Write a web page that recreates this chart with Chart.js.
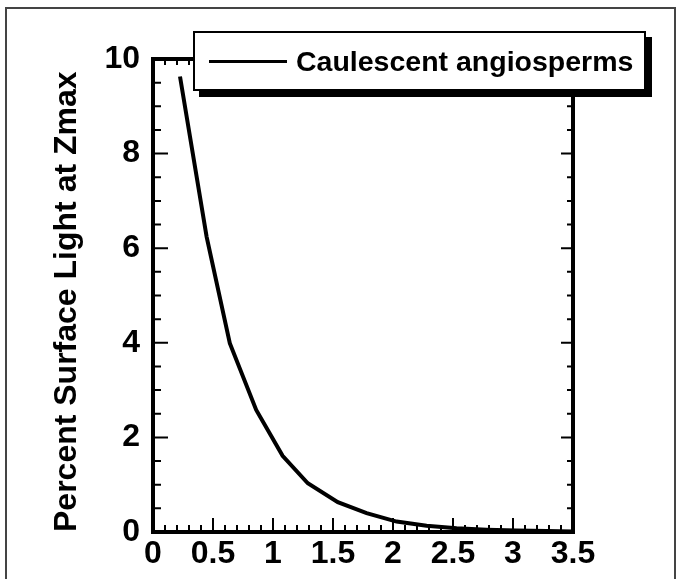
<!DOCTYPE html>
<html>
<head>
<meta charset="utf-8">
<script src="https://cdn.jsdelivr.net/npm/chart.js@4.4.0/dist/chart.umd.min.js"></script>
<style>
html,body{margin:0;padding:0;background:#fff;overflow:hidden}
#wrap{position:relative;width:681px;height:579px;background:#fff}
#c{position:absolute;left:0;top:0}
#frame{position:absolute;left:5px;top:7px;width:671px;height:640px;border:2px solid #444;box-sizing:border-box;pointer-events:none}
#legend{position:absolute;left:193px;top:31px;width:453px;height:60px;box-sizing:border-box;border:2px solid #000;background:#fff;box-shadow:6px 6px 0 0 #000;display:flex;align-items:center;padding-left:14px;font-family:"Liberation Sans",Arial,sans-serif;font-weight:bold;font-size:28.5px;color:#000;white-space:nowrap}
#legend .sample{display:inline-block;width:78px;height:3px;background:#000;margin-right:9px}
</style>
</head>
<body>
<div id="wrap">
  <canvas id="c" width="681" height="579"></canvas>
  <div id="legend"></div>
  <div id="frame"></div>
</div>
<script>
// ---- data ----
const seriesName = 'Caulescent angiosperms';
const yAxisTitle = 'Percent Surface Light at Zmax';
const depthValues = [0.225, 0.447, 0.64, 0.86, 1.08, 1.29, 1.54, 1.78, 2.03, 2.28, 2.53, 2.78, 3.03, 3.28, 3.5];
const lightValues = [9.63, 6.24, 3.99, 2.58, 1.61, 1.03, 0.63, 0.40, 0.22, 0.13, 0.08, 0.05, 0.03, 0.02, 0.012];
const xTickValues = [0, 0.5, 1, 1.5, 2, 2.5, 3, 3.5];
const xTickLabels = ['0', '0.5', '1', '1.5', '2', '2.5', '3', '3.5'];
const yTickValues = [0, 2, 4, 6, 8, 10];
const yTickLabels = ['0', '2', '4', '6', '8', '10'];

Chart.defaults.font.family = '"Liberation Sans", Arial, sans-serif';
Chart.defaults.font.weight = 'bold';
Chart.defaults.color = '#000';
const tickFont = {family: '"Liberation Sans", Arial, sans-serif', size: 32, weight: 'bold'};

const axesFrame = {
  id: 'axesFrame',
  afterDatasetsDraw(chart) {
    const {ctx, chartArea: a, scales: {x, y}} = chart;
    ctx.save();
    ctx.strokeStyle = '#000';
    ctx.lineWidth = 2;
    ctx.beginPath();
    for (let i = 0; i <= 35; i++) {
      const px = x.getPixelForValue(i / 10);
      const major = i % 5 === 0;
      ctx.moveTo(px, a.bottom); ctx.lineTo(px, a.bottom - (major ? 14 : 7));
      ctx.moveTo(px, a.top); ctx.lineTo(px, a.top + (major ? 12 : 6));
    }
    for (let i = 0; i <= 20; i++) {
      const py = y.getPixelForValue(i / 2);
      const major = i % 4 === 0;
      ctx.moveTo(a.left, py); ctx.lineTo(a.left + (major ? 15 : 8), py);
      ctx.moveTo(a.right, py); ctx.lineTo(a.right - (major ? 12 : 6), py);
    }
    ctx.stroke();
    ctx.lineWidth = 4;
    ctx.strokeRect(a.left, a.top, a.right - a.left, a.bottom - a.top);
    ctx.restore();
  }
};

const chart = new Chart(document.getElementById('c'), {
  type: 'line',
  data: {
    datasets: [{
      label: seriesName,
      data: depthValues.map((d, i) => ({x: d, y: lightValues[i]})),
      borderColor: '#000',
      backgroundColor: '#000',
      borderWidth: 4,
      pointRadius: 0,
      tension: 0,
      fill: false
    }]
  },
  options: {
    responsive: false,
    animation: false,
    devicePixelRatio: 1,
    layout: {padding: {left: 0, top: 59, right: 108, bottom: 0}},
    plugins: {legend: {display: false}, tooltip: {enabled: false}},
    scales: {
      x: {
        type: 'linear', min: 0, max: 3.5,
        afterBuildTicks: s => { s.ticks = xTickValues.map(v => ({value: v})); },
        afterFit: s => { s.height = 47; },
        grid: {display: false, drawTicks: false},
        border: {display: false},
        ticks: {font: tickFont, color: '#000', padding: 3, maxRotation: 0, autoSkip: false,
                callback: (v, i) => xTickLabels[i]}
      },
      y: {
        type: 'linear', min: 0, max: 10,
        afterBuildTicks: s => { s.ticks = yTickValues.map(v => ({value: v})); },
        afterFit: s => { s.width = 153; },
        grid: {display: false, drawTicks: false},
        border: {display: false},
        ticks: {font: tickFont, color: '#000', padding: 13,
                callback: (v, i) => yTickLabels[i]},
        title: {display: true, text: yAxisTitle, color: '#000', align: 'start',
                font: {size: 32, weight: 'bold'}, padding: {top: 48, bottom: 0}}
      }
    }
  },
  plugins: [axesFrame]
});

// HTML legend built from the dataset
const lg = document.getElementById('legend');
chart.data.datasets.forEach(ds => {
  const s = document.createElement('span'); s.className = 'sample';
  const t = document.createElement('span'); t.textContent = ds.label;
  lg.appendChild(s); lg.appendChild(t);
});
</script>
</body>
</html>
